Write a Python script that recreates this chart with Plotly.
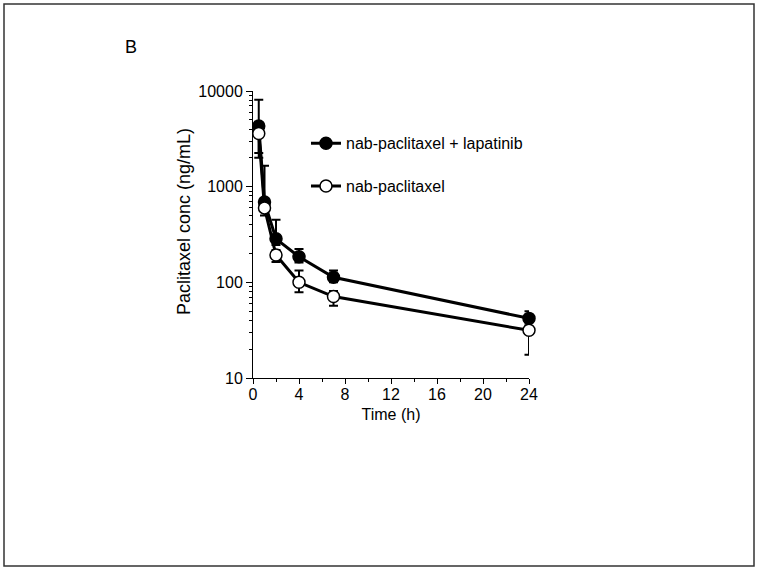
import plotly.graph_objects as go

# Data
time_h = [0.5, 1, 2, 4, 7, 24]

combo_conc = [4300, 690, 285, 185, 113, 42]
combo_err_plus = [3800, 960, 165, 38, 20, 8]
combo_err_minus = [2050, 100, 40, 24, 13, 4]

mono_conc = [3600, 600, 193, 100, 71, 31.5]
mono_err_plus = [400, 80, 25, 33, 10, 4]
mono_err_minus = [1600, 100, 30, 21, 14, 14]

series_names = ["nab-paclitaxel + lapatinib", "nab-paclitaxel"]
x_ticks = [0, 4, 8, 12, 16, 20, 24]
x_minor_ticks = [2, 6, 10, 14, 18, 22]
y_ticks = [10, 100, 1000, 10000]
y_minor_ticks = [m * d for d in (10, 100, 1000) for m in range(2, 10)]
y_title = "Paclitaxel conc (ng/mL)"

FONT = "Liberation Sans, Arial, sans-serif"

fig = go.Figure()
fig.add_trace(go.Scatter(
    x=time_h, y=combo_conc, name=series_names[0], legendgroup="a",
    mode="lines+markers", cliponaxis=False,
    line=dict(color="black", width=3),
    marker=dict(symbol="circle", size=12, color="black", line=dict(color="black", width=1.5)),
    error_y=dict(type="data", symmetric=False, array=combo_err_plus, arrayminus=combo_err_minus,
                 color="black", thickness=2, width=4.5),
))
fig.add_trace(go.Scatter(
    x=time_h, y=mono_conc, name=series_names[1], legendgroup="b",
    mode="lines+markers", cliponaxis=False,
    line=dict(color="black", width=3),
    marker=dict(symbol="circle", size=12, color="white", line=dict(color="black", width=1.5)),
    error_y=dict(type="data", symmetric=False, array=mono_err_plus, arrayminus=mono_err_minus,
                 color="black", thickness=2, width=4.5),
))

pw, ph = 276.0, 287.0

fig.update_layout(
    width=758, height=569,
    margin=dict(l=253, r=229, t=91, b=191, autoexpand=False),
    paper_bgcolor="white", plot_bgcolor="white",
    font=dict(family=FONT, size=16, color="black"),
    showlegend=True,
    legend=dict(x=0.192, y=0.877, xanchor="left", yanchor="top",
                bgcolor="rgba(0,0,0,0)", tracegroupgap=19,
                font=dict(family=FONT, size=16, color="black"),
                traceorder="grouped"),
    xaxis=dict(range=[0, 24], tickvals=x_ticks, ticks="outside", ticklen=5, tickwidth=1,
               tickcolor="black", showline=True, linecolor="black", linewidth=1,
               showgrid=False, zeroline=False, ticklabelstandoff=-3,
               minor=dict(tickvals=x_minor_ticks, ticks="outside", ticklen=3,
                          tickcolor="black", showgrid=False),
               title=dict(text="Time (h)", standoff=6, font=dict(size=16)),
               tickfont=dict(size=16)),
    yaxis=dict(type="log", range=[1, 4], tickvals=y_ticks, ticktext=[str(v) for v in y_ticks],
               ticks="outside", ticklen=6, tickwidth=1, tickcolor="black",
               showline=True, linecolor="black", linewidth=1,
               showgrid=False, zeroline=False,
               minor=dict(tickvals=y_minor_ticks, ticks="outside", ticklen=3,
                          tickcolor="black", showgrid=False),
               tickfont=dict(size=16)),
    annotations=[
        dict(text="B", x=(131 - 253) / pw, y=(378 - 47) / ph,
             xref="paper", yref="paper", xanchor="center", yanchor="middle",
             showarrow=False, font=dict(size=18, family=FONT)),
        dict(text=y_title, x=(184 - 253) / pw, y=(378 - 222) / ph, textangle=-90,
             xref="paper", yref="paper", xanchor="center", yanchor="middle",
             showarrow=False, font=dict(size=18, family=FONT)),
    ],
)

# outer border of the figure
fig.add_shape(type="rect", xref="paper", yref="paper",
              x0=(4 - 253) / pw, x1=(754 - 253) / pw,
              y0=(378 - 566) / ph, y1=(378 - 4) / ph,
              line=dict(color="#333333", width=1.5), fillcolor="rgba(0,0,0,0)", layer="below")

fig.write_html("out.html", config={"displayModeBar": False},
               post_script="document.body.style.margin='0';document.body.style.overflow='hidden';")
